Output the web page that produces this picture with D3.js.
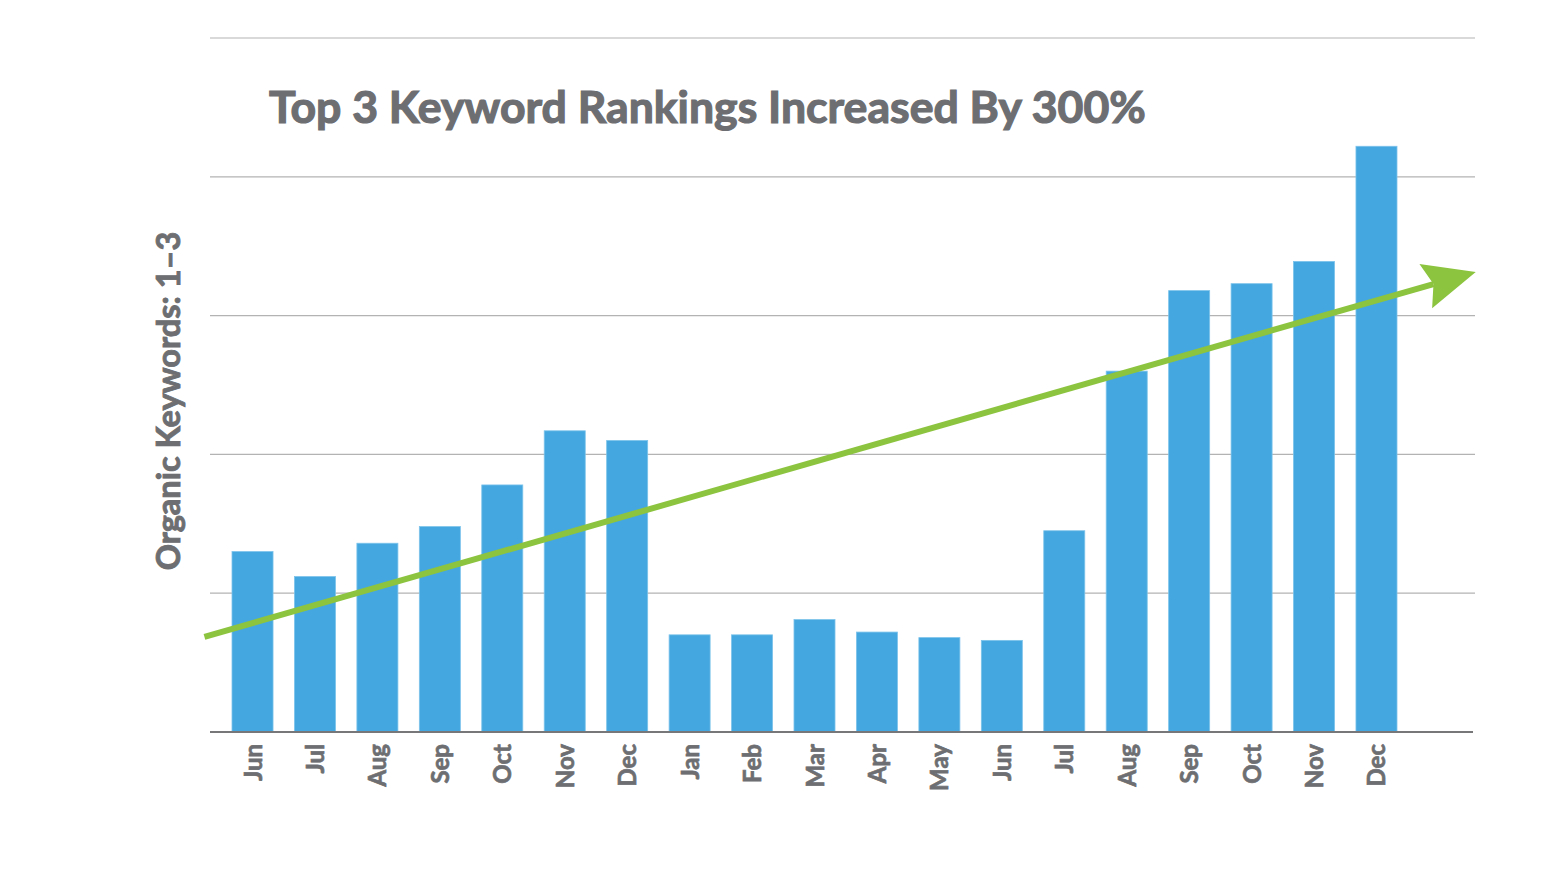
<!DOCTYPE html>
<html><head><meta charset="utf-8">
<script src="https://cdn.jsdelivr.net/npm/d3@7"></script>
<style>body{margin:0;background:#fff;} svg{display:block;}</style>
</head><body>
<svg id="c" width="1559" height="876"></svg>
<script>
const months = ["Jun","Jul","Aug","Sep","Oct","Nov","Dec","Jan","Feb","Mar","Apr","May","Jun","Jul","Aug","Sep","Oct","Nov","Dec"];
const values = [13.0,11.2,13.6,14.8,17.8,21.7,21.0,7.0,7.0,8.1,7.2,6.8,6.6,14.5,26.0,31.8,32.3,33.9,42.2];
const gridTicks = [0,10,20,30,40,50];
const trendStart = [-0.77, 6.85];   // [band index, value]
const trendEnd = [19.59, 33.15];
const title = "Top 3 Keyword Rankings Increased By 300%";
const yTitle = "Organic Keywords: 1–3";

const svg = d3.select("#c");
const keys = months.map((m,i)=>i);
const x = d3.scaleBand().domain(keys).range([221.3, 1407.7]).paddingInner(0.343).paddingOuter(0.1715);
const y = d3.scaleLinear().domain([0,50]).range([732,38]);
const gray = "#6d6e71";

svg.append("g").selectAll("line").data(gridTicks.slice(1)).join("line")
  .attr("x1",210).attr("x2",1475).attr("y1",d=>y(d)).attr("y2",d=>y(d))
  .attr("stroke","#b3b3b3").attr("stroke-width",1.2);

svg.append("g").selectAll("rect").data(values).join("rect")
  .attr("x",(d,i)=>x(i)).attr("width",x.bandwidth())
  .attr("y",d=>y(d)).attr("height",d=>y(0)-y(d))
  .attr("fill","#44a7df").attr("stroke","#7cc3eb").attr("stroke-width",0.8);

svg.append("line").attr("x1",210).attr("x2",1473).attr("y1",y(0)).attr("y2",y(0))
  .attr("stroke","#777779").attr("stroke-width",2);

svg.append("g").selectAll("text").data(months).join("text")
  .attr("transform",(d,i)=>`translate(${x(i)+x.bandwidth()/2+9},744) rotate(-90)`)
  .attr("text-anchor","end")
  .attr("font-family","Lato, sans-serif").attr("font-weight","bold").attr("font-size",24)
  .attr("fill",gray).attr("stroke",gray).attr("stroke-width",0.7).text(d=>d);

svg.append("text").attr("x",269).attr("y",123)
  .attr("font-family","Lato, sans-serif").attr("font-weight","bold").attr("font-size",44.6)
  .attr("fill",gray).attr("stroke",gray).attr("stroke-width",1.2).text(title);

svg.append("text").attr("transform","translate(180,401) rotate(-90)")
  .attr("text-anchor","middle")
  .attr("font-family","Lato, sans-serif").attr("font-weight","bold").attr("font-size",32.5)
  .attr("fill",gray).attr("stroke",gray).attr("stroke-width",0.9).text(yTitle);

const bx = t => x(0) + x.bandwidth()/2 + t*x.step();
const x1 = bx(trendStart[0]), y1 = y(trendStart[1]);
const x2 = bx(trendEnd[0]), y2 = y(trendEnd[1]);
const ang = Math.atan2(y2-y1, x2-x1);
const headLen = 52, headW = 23, notch = 8;
const cx = Math.cos(ang), cy = Math.sin(ang);
const px = -cy, py = cx;
const bxh = x2 - headLen*cx, byh = y2 - headLen*cy;
svg.append("line").attr("x1",x1).attr("y1",y1)
  .attr("x2",bxh+notch*cx).attr("y2",byh+notch*cy)
  .attr("stroke","#8cc43f").attr("stroke-width",6);
const head = [
  [x2,y2],
  [bxh+px*headW, byh+py*headW],
  [bxh+notch*cx, byh+notch*cy],
  [bxh-px*headW, byh-py*headW]
];
svg.append("path").attr("d",d3.line()(head)+"Z").attr("fill","#8cc43f");
</script>
</body></html>
